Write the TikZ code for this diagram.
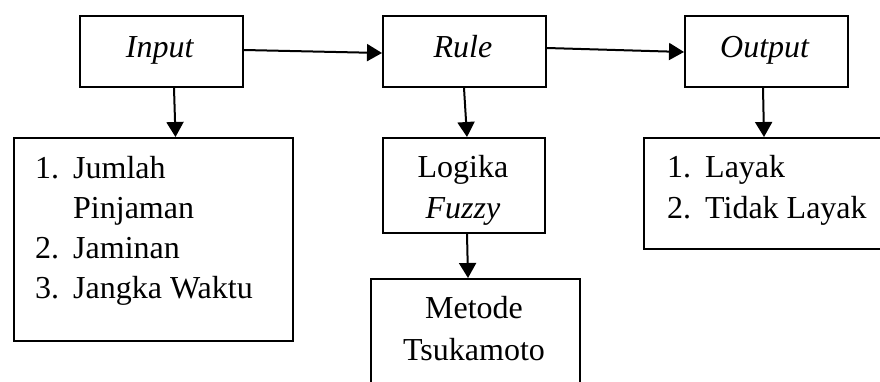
\documentclass[tikz,border=0pt]{standalone}
\usepackage{fontspec}
\setmainfont{Liberation Serif}
\usetikzlibrary{arrows.meta}

\begin{document}
\begin{tikzpicture}[x=1pt,y=-1pt,
  box/.style={draw=black, line width=2pt, rectangle, inner sep=0pt, anchor=north west},
  lbl/.style={inner sep=0pt, font=\fontsize{32}{40}\selectfont},
  arr/.style={draw=black, line width=2pt, -{Triangle[length=15pt,width=17pt]}}]
  \useasboundingbox (0,0) rectangle (880,381);
  \clip (0,0) rectangle (880,381);

  % top row
  \node[box, minimum width=163pt, minimum height=71pt] (input)  at (79,15)  {};
  \node[box, minimum width=163pt, minimum height=71pt] (rule)   at (382,15) {};
  \node[box, minimum width=163pt, minimum height=71pt] (output) at (684,15) {};
  \node[lbl, anchor=base] (tin)  at (160,57) {\textit{Input}};
  \node[lbl, anchor=base] (trl)  at (463,57) {\textit{Rule}};
  \node[lbl, anchor=base] (tout) at (765,57) {\textit{Output}};

  % lower boxes
  \node[box, minimum width=279pt, minimum height=203pt] (vars)   at (13,137)  {};
  \node[box, minimum width=162pt, minimum height=95pt]  (logika) at (382,137) {};
  \node[box, minimum width=209pt, minimum height=140pt] (metode) at (370,278) {};
  \node[box, minimum width=260pt, minimum height=111pt] (hasil)  at (643,137) {};

  % input variables
  \node[lbl, anchor=base west] (n1) at (35,178) {1.};
  \node[lbl, anchor=base west] (v1) at (73,178) {Jumlah};
  \node[lbl, anchor=base west] (v1b) at (73,218) {Pinjaman};
  \node[lbl, anchor=base west] (n2) at (35,258) {2.};
  \node[lbl, anchor=base west] (v2) at (73,258) {Jaminan};
  \node[lbl, anchor=base west] (n3) at (35,298) {3.};
  \node[lbl, anchor=base west] (v3) at (73,298) {Jangka Waktu};

  % fuzzy logic and method
  \node[lbl, anchor=base] (l1) at (463,177) {Logika};
  \node[lbl, anchor=base] (l2) at (463,218) {\textit{Fuzzy}};
  \node[lbl, anchor=base] (m1) at (474,318) {Metode};
  \node[lbl, anchor=base] (m2) at (474,360) {Tsukamoto};

  % output classes
  \node[lbl, anchor=base west] (o1n) at (667,177) {1.};
  \node[lbl, anchor=base west] (o1)  at (705,177) {Layak};
  \node[lbl, anchor=base west] (o2n) at (667,218) {2.};
  \node[lbl, anchor=base west] (o2)  at (705,218) {Tidak Layak};

  % connectors
  \draw[arr] ([yshift=1.5pt]input.east) -- ([yshift=-1.5pt]rule.west);
  \draw[arr] ([yshift=3.5pt]rule.east) -- ([yshift=-0.5pt]output.west);
  \draw[arr] ([xshift=12.5pt]input.south) -- ([xshift=22pt]vars.north);
  \draw[arr] ([xshift=-0.5pt]rule.south) -- ([xshift=3pt]logika.north);
  \draw[arr] ([xshift=-3.5pt]output.south) -- ([xshift=-10pt]hasil.north);
  \draw[arr] ([xshift=3pt]logika.south) -- ([xshift=-7.5pt]metode.north);
\end{tikzpicture}
\end{document}
